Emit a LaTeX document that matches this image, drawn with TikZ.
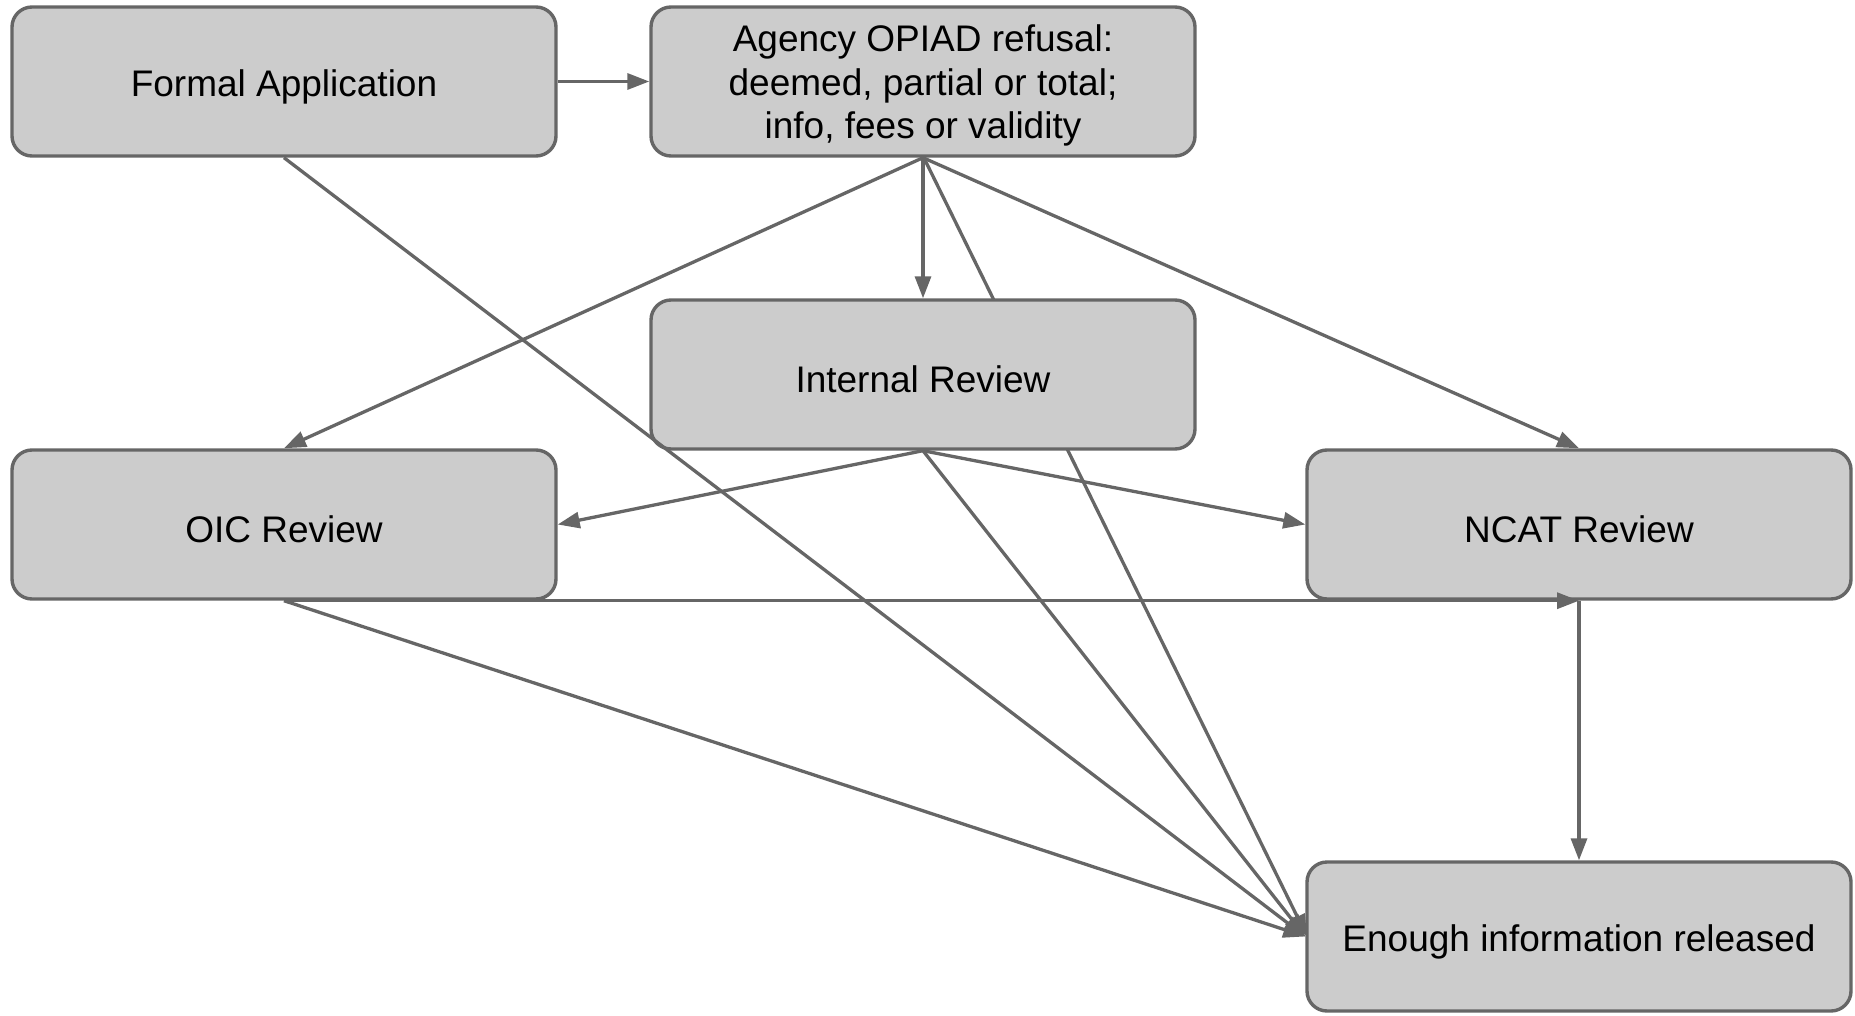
\documentclass[tikz,border=0pt]{standalone}
\usepackage{fontspec}
\setmainfont{Liberation Sans}
\usetikzlibrary{arrows.meta}
\definecolor{edgegray}{HTML}{666666}
\definecolor{boxgray}{HTML}{CCCCCC}
\tikzset{
  box/.style={draw=edgegray, fill=boxgray, line width=3.4pt, rounded corners=20pt,
    minimum width=544pt, minimum height=149pt, align=center, inner sep=0pt,
    font=\fontsize{37}{43.5}\selectfont, text=black},
  conn/.style={draw=edgegray, line width=3.3pt, -{Triangle[length=22pt,width=16pt]}},
}
\newcommand{\dn}[1]{\raisebox{-5pt}[\height][\depth]{#1}}
\begin{document}
\begin{tikzpicture}[x=1pt,y=-1pt]
\useasboundingbox (0,0) rectangle (1855,1016);
\coordinate (agS) at (923,156);
\coordinate (enW) at (1307,936.5);
\draw[conn] (agS) -- (enW);
\node[box] (formal) at (284,81.5) {\dn{Formal Application}};
\node[box] (agency) at (923,81.5) {\dn{\begin{tabular}{@{}c@{}}Agency OPIAD refusal:\\deemed, partial or total;\\info, fees or validity\end{tabular}}};
\node[box] (internal) at (923,374.5) {\dn{Internal Review}};
\node[box] (oic) at (284,524.5) {\dn{OIC Review}};
\node[box] (ncat) at (1579,524.5) {\dn{NCAT Review}};
\node[box] (enough) at (1579,936.5) {\dn{Enough information released}};
\draw[conn] (formal.east) -- (agency.west);
\draw[conn] (formal.south) -- (enough.west);
\draw[conn] (agency.south) -- (oic.north);
\draw[conn] (agency.south) -- (internal.north);
\draw[conn] (agency.south) -- (ncat.north);
\draw[conn] (internal.south) -- (oic.east);
\draw[conn] (internal.south) -- (ncat.west);
\draw[conn] (internal.south) -- (enough.west);
\draw[conn] (oic.south) -- (ncat.south);
\draw[conn] (oic.south) -- (enough.west);
\draw[conn] (ncat.south) -- (enough.north);
\end{tikzpicture}
\end{document}
